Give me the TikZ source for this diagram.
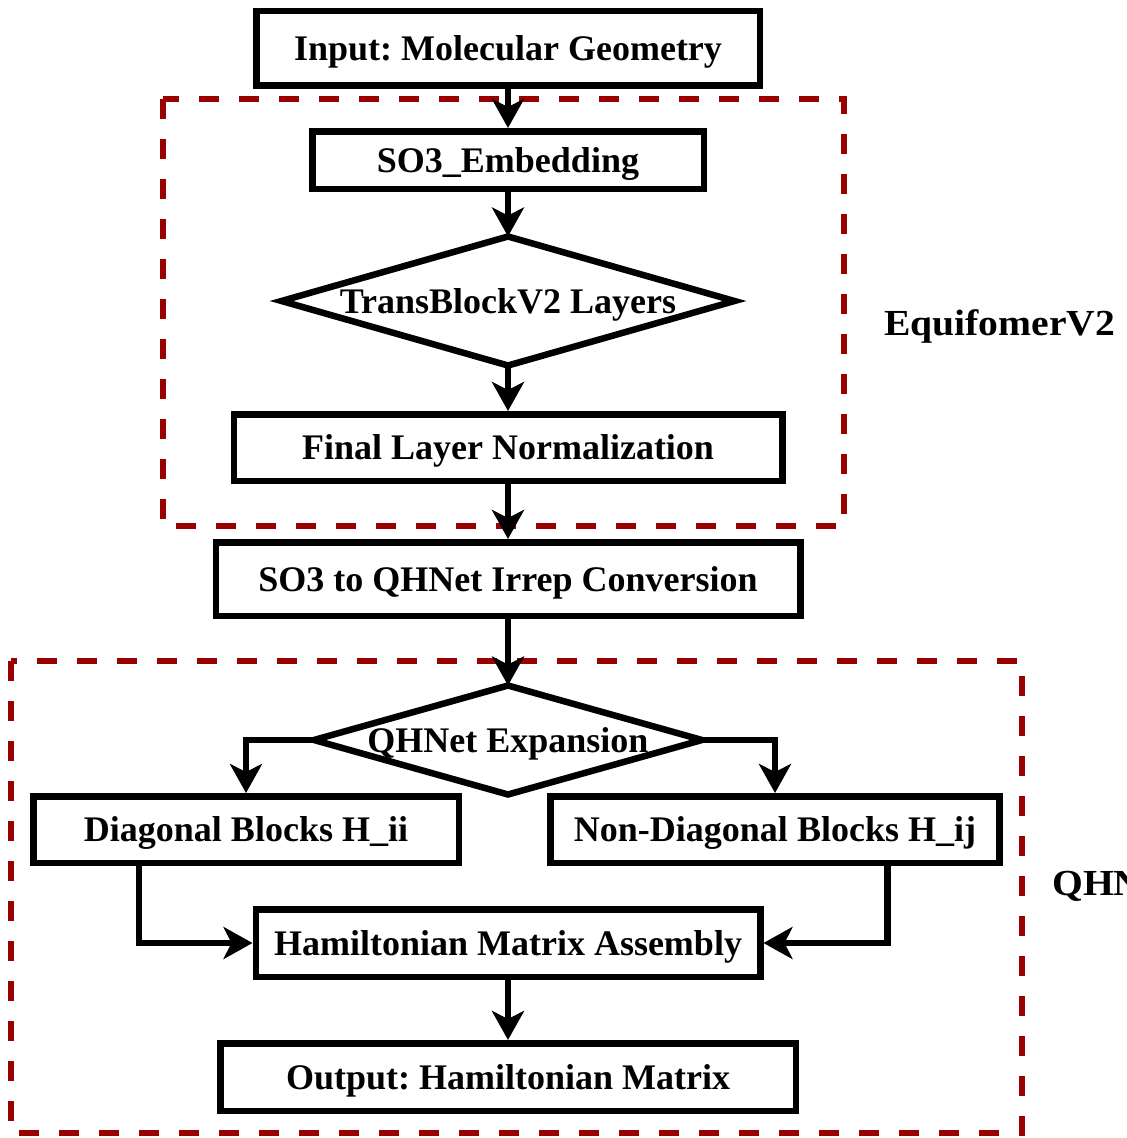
\documentclass[tikz,border=0pt]{standalone}
\usepackage{fontspec}
\setmainfont{Liberation Serif}
\usetikzlibrary{arrows.meta,shapes.geometric}
\definecolor{dred}{RGB}{153,0,0}
\frenchspacing
\begin{document}
\begin{tikzpicture}[x=1pt,y=-1pt,
  every node/.style={font=\fontsize{36}{43}\selectfont\bfseries},
  box/.style={draw,line width=6.5pt,rectangle,inner sep=0pt,outer sep=3.25pt,
    text height=24pt,text depth=0pt},
  dia/.style={draw,line width=6.5pt,diamond,inner sep=0pt,outer sep=0pt,
    text height=24pt,text depth=0pt},
  arr/.style={line width=6.5pt,-{Stealth[length=29pt,width=32pt,inset=8pt]}},
  grp/.style={draw=dred,line width=6pt,dash pattern=on 20pt off 20pt},
  lbl/.style={anchor=base west,inner sep=0pt}]
\useasboundingbox (0,0) rectangle (1127,1138);
% groups
\draw[grp] (163,99) rectangle (844,526);
\draw[grp] (11,661) rectangle (1022,1133);
% nodes
\node[box,minimum width=503.5pt,minimum height=74.5pt] (inp) at (508,48) {Input: Molecular Geometry};
\node[box,minimum width=391.5pt,minimum height=57.5pt] (emb) at (508,160) {SO3\_Embedding};
\node[dia,minimum width=453pt,minimum height=129pt] (tb) at (508,301) {\makebox[0pt]{TransBlockV2 Layers}};
\node[box,minimum width=548.5pt,minimum height=66.5pt] (fln) at (508,447.5) {Final Layer Normalization};
\node[box,minimum width=584.5pt,minimum height=73.5pt] (conv) at (508,579) {SO3 to QHNet Irrep Conversion};
\node[dia,minimum width=388pt,minimum height=109pt] (exp) at (508,740) {\makebox[0pt]{QHNet Expansion}};
\node[box,minimum width=425.5pt,minimum height=66.5pt] (diag) at (246,829.5) {Diagonal Blocks H\_ii};
\node[box,minimum width=449pt,minimum height=66.5pt] (ndiag) at (775,829.5) {Non-Diagonal Blocks H\_ij};
\node[box,minimum width=504.5pt,minimum height=67.5pt] (asm) at (508,943) {Hamiltonian Matrix Assembly};
\node[box,minimum width=575.5pt,minimum height=67.5pt] (out) at (508,1077) {Output: Hamiltonian Matrix};
% labels
\node[lbl] (l1) at (884,335) {\scalebox{1.1}[1.02]{EquifomerV2}};
\node[lbl] (l2) at (1052,895) {\scalebox{1.1}[1.02]{QHNet}};
% connectors
\draw[arr] (inp.south) -- (emb.north);
\draw[arr] (emb.south) -- (tb.north);
\draw[arr] (tb.south) -- (fln.north);
\draw[arr] (fln.south) -- (conv.north);
\draw[arr] (conv.south) -- (exp.north);
\draw[arr] (exp.west) -| (diag.north);
\draw[arr] (exp.east) -| (ndiag.north);
\draw[arr] ([xshift=-107pt]diag.south) |- (asm.west);
\draw[arr] ([xshift=112.5pt]ndiag.south) |- (asm.east);
\draw[arr] (asm.south) -- (out.north);
\end{tikzpicture}
\end{document}
